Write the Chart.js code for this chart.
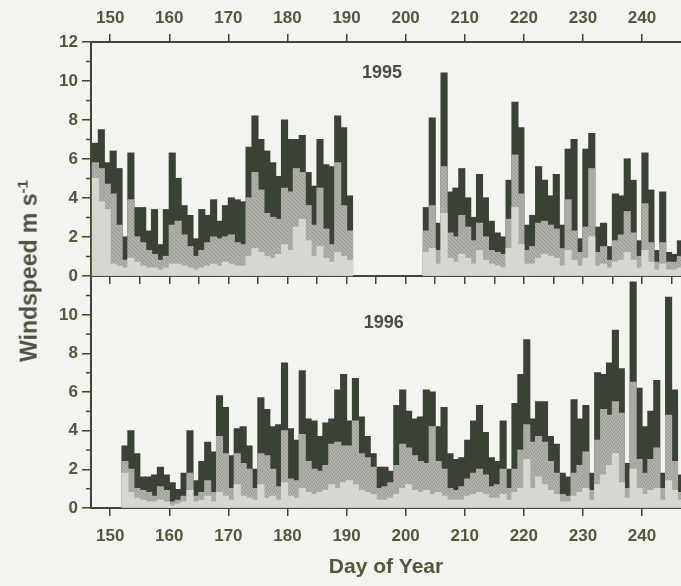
<!DOCTYPE html>
<html>
<head>
<meta charset="utf-8">
<script src="https://cdn.jsdelivr.net/npm/chart.js@4.4.1/dist/chart.umd.min.js"></script>
<style>
  html, body { margin: 0; padding: 0; background: #f3f3ef; }
  #lienzo { position: relative; width: 681px; height: 586px; overflow: hidden; background: #f3f3ef; }
  #grafico96 { position: absolute; left: 0; top: 262px; }
  #grafico95 { position: absolute; left: 0; top: 0; }
  #tituloY {
    position: absolute; left: 28px; top: 271px;
    transform: translate(-50%, -50%) rotate(-90deg);
    white-space: nowrap; font: bold 23px "Liberation Sans", Arial, sans-serif; color: #4b5240;
  }
  #tituloY sup { font-size: 15px; }
</style>
</head>
<body>
<div id="lienzo">
  <canvas id="grafico96" width="681" height="324"></canvas>
  <canvas id="grafico95" width="681" height="292"></canvas>
  <div id="tituloY">Windspeed m s<sup>-1</sup></div>
</div>
<script>
// Datos 1995 (sin datos entre los días 191 y 202)
const dias95 = [
  147, 148, 149, 150, 151, 152, 153, 154, 155, 156,
  157, 158, 159, 160, 161, 162, 163, 164, 165, 166,
  167, 168, 169, 170, 171, 172, 173, 174, 175, 176,
  177, 178, 179, 180, 181, 182, 183, 184, 185, 186,
  187, 188, 189, 190,
  203, 204, 205, 206, 207, 208, 209, 210, 211, 212,
  213, 214, 215, 216, 217, 218, 219, 220, 221, 222,
  223, 224, 225, 226, 227, 228, 229, 230, 231, 232,
  233, 234, 235, 236, 237, 238, 239, 240, 241, 242,
  243, 244, 245, 246
];
const maximo95 = [
  6.8, 7.5, 5.8, 6.4, 5.5, 2.0, 6.3, 3.5, 3.5, 2.3,
  3.4, 1.6, 3.4, 6.3, 5.0, 3.6, 3.1, 1.9, 3.4, 3.1,
  3.9, 2.8, 3.6, 4.0, 3.9, 3.8, 6.6, 8.2, 7.0, 6.4,
  5.8, 5.1, 8.0, 7.0, 7.0, 7.2, 5.3, 4.6, 7.0, 5.7,
  5.6, 8.2, 7.6, 4.1,
  3.5, 8.1, 2.7, 10.4, 4.3, 4.5, 5.5, 4.0, 3.0, 5.2,
  4.0, 2.8, 2.2, 2.0, 4.9, 8.9, 7.6, 2.6, 3.1, 5.6,
  4.9, 4.1, 5.2, 2.6, 6.5, 7.0, 1.9, 6.5, 7.3, 2.5,
  2.7, 1.5, 4.2, 4.1, 6.0, 4.9, 1.8, 6.3, 4.4, 1.3,
  4.3, 1.2, 1.1, 1.8
];
const media95 = [
  5.8, 5.5, 4.7, 4.2, 2.6, 0.8, 3.9, 2.0, 1.7, 1.3,
  1.1, 0.8, 1.0, 2.6, 2.8, 2.1, 1.5, 1.0, 1.3, 1.7,
  2.0, 1.9, 2.0, 2.1, 1.7, 1.6, 4.0, 5.3, 4.4, 3.2,
  3.0, 2.9, 4.5, 4.3, 5.5, 5.3, 3.6, 2.6, 4.5, 2.4,
  1.6, 5.8, 3.6, 2.3,
  2.3, 3.6, 1.3, 5.6, 2.2, 2.0, 3.1, 2.5, 1.8, 2.7,
  2.0, 1.3, 1.2, 1.1, 2.9, 6.2, 4.2, 1.3, 1.5, 2.7,
  2.8, 2.6, 2.4, 1.4, 3.9, 2.3, 1.2, 2.5, 5.5, 1.2,
  1.5, 0.8, 1.8, 2.1, 3.3, 2.2, 1.0, 3.7, 1.7, 0.7,
  1.7, 0.7, 0.7, 1.0
];
const minimo95 = [
  5.0, 3.8, 3.4, 0.6, 0.5, 0.4, 0.9, 0.7, 0.5, 0.4,
  0.4, 0.3, 0.4, 0.6, 0.6, 0.5, 0.4, 0.3, 0.4, 0.5,
  0.6, 0.5, 0.7, 0.6, 0.5, 0.5, 1.0, 1.4, 1.2, 1.0,
  0.9, 1.1, 1.6, 1.3, 2.5, 2.9, 1.8, 1.0, 1.5, 0.9,
  0.7, 1.2, 1.0, 0.8,
  1.2, 1.4, 0.6, 3.2, 0.9, 0.7, 1.1, 0.9, 0.6, 1.3,
  0.8, 0.6, 0.5, 0.4, 1.4, 3.5, 1.6, 0.6, 0.6, 0.9,
  1.1, 1.0, 0.9, 0.5, 1.3, 0.8, 0.5, 0.9, 2.0, 0.5,
  0.6, 0.4, 0.7, 0.8, 1.2, 0.8, 0.4, 1.3, 0.7, 0.3,
  0.6, 0.3, 0.3, 0.4
];

// Datos 1996
const dias96 = [
  152, 153, 154, 155, 156, 157, 158, 159, 160, 161,
  162, 163, 164, 165, 166, 167, 168, 169, 170, 171,
  172, 173, 174, 175, 176, 177, 178, 179, 180, 181,
  182, 183, 184, 185, 186, 187, 188, 189, 190, 191,
  192, 193, 194, 195, 196, 197, 198, 199, 200, 201,
  202, 203, 204, 205, 206, 207, 208, 209, 210, 211,
  212, 213, 214, 215, 216, 217, 218, 219, 220, 221,
  222, 223, 224, 225, 226, 227, 228, 229, 230, 231,
  232, 233, 234, 235, 236, 237, 238, 239, 240, 241,
  242, 243, 244, 245, 246
];
const maximo96 = [
  3.2, 4.0, 2.8, 1.6, 1.6, 1.7, 2.1, 1.7, 1.3, 0.95,
  1.8, 4.0, 1.4, 2.4, 3.4, 2.9, 5.8, 5.2, 2.7, 4.1,
  4.2, 3.2, 2.0, 5.7, 5.1, 4.2, 4.3, 7.5, 4.1, 3.5,
  7.1, 4.6, 4.5, 3.7, 4.4, 4.6, 6.1, 6.9, 4.5, 6.7,
  4.7, 3.7, 2.8, 2.1, 2.1, 1.9, 5.3, 6.1, 5.0, 4.6,
  4.7, 6.1, 6.0, 4.2, 5.2, 2.8, 2.5, 2.6, 3.5, 4.5,
  5.3, 3.9, 2.6, 2.4, 4.5, 2.0, 5.4, 6.9, 8.7, 4.6,
  5.5, 5.5, 3.7, 3.3, 1.8, 1.6, 5.6, 4.6, 5.3, 1.8,
  7.0, 6.9, 7.5, 9.2, 7.2, 2.3, 11.7, 6.2, 4.2, 5.0,
  6.6, 1.8, 10.9, 6.1, 1.7
];
const media96 = [
  2.4, 2.0, 1.0, 0.9, 0.8, 0.6, 1.1, 0.9, 0.3, 0.4,
  0.6, 1.8, 0.6, 0.8, 1.4, 0.8, 3.7, 2.8, 1.0, 2.8,
  2.3, 2.0, 1.0, 2.8, 2.7, 2.0, 1.1, 4.0, 1.5, 1.4,
  3.8, 2.4, 2.0, 1.9, 2.2, 3.3, 3.4, 3.2, 3.2, 4.5,
  2.8, 2.6, 2.1, 1.0, 1.1, 1.3, 2.2, 3.3, 3.1, 2.7,
  2.4, 2.3, 4.2, 2.4, 2.0, 1.0, 0.9, 1.1, 1.5, 1.8,
  2.0, 1.7, 1.1, 1.2, 2.0, 1.0, 2.0, 3.0, 4.3, 3.4,
  3.7, 3.4, 2.4, 1.8, 0.7, 0.6, 1.8, 2.2, 2.9, 0.9,
  3.5, 5.1, 4.8, 5.5, 4.9, 1.0, 6.5, 2.5, 1.8, 2.5,
  3.1, 1.0, 4.8, 2.4, 0.8
];
const minimo96 = [
  1.8, 0.8, 0.5, 0.4, 0.3, 0.3, 0.4, 0.3, 0.1, 0.2,
  0.3, 0.9, 0.3, 0.4, 0.6, 0.3, 0.8, 0.6, 0.4, 1.2,
  0.6, 0.5, 0.4, 1.2, 0.5, 0.6, 0.4, 1.3, 0.6, 0.5,
  1.0, 0.8, 0.7, 0.8, 0.9, 1.2, 1.0, 1.3, 1.4, 1.2,
  0.9, 0.8, 0.7, 0.4, 0.4, 0.5, 0.7, 1.0, 1.2, 0.9,
  0.8, 0.9, 0.7, 0.8, 0.6, 0.4, 0.4, 0.4, 0.6, 0.7,
  0.8, 0.7, 0.5, 0.5, 0.7, 0.4, 0.8, 1.0, 2.5, 1.0,
  1.6, 1.2, 0.9, 0.7, 0.3, 0.3, 0.6, 0.8, 1.0, 0.4,
  1.2, 1.7, 2.2, 2.8, 1.3, 0.5, 2.0, 1.0, 0.7, 0.9,
  1.0, 0.4, 1.4, 0.9, 0.4
];

// Marcas de los ejes
const marcasX = [150, 155, 160, 165, 170, 175, 180, 185, 190, 195, 200, 205, 210, 215, 220, 225, 230, 235, 240, 245];
const marcasY95 = [0, 2, 4, 6, 8, 10, 12];
const marcasY96 = [0, 2, 4, 6, 8, 10];
const marcasMenoresY = [1, 3, 5, 7, 9, 11];

const diaMin = 146.75;
const diaMax = 246.6;

const colorEje = '#3d4a30';
const colorTexto = '#4f5a3c';
const colorOscuro = '#3a4236';
const colorClaro = '#d7d7d2';
const fuente = '"Liberation Sans", Arial, sans-serif';

Chart.defaults.font.family = fuente;
Chart.defaults.font.weight = 'bold';

// punteado suave para la capa intermedia
function trama(base, punto) {
  const c = document.createElement('canvas');
  c.width = 4; c.height = 4;
  const g = c.getContext('2d');
  g.fillStyle = base;
  g.fillRect(0, 0, 4, 4);
  g.fillStyle = punto;
  g.fillRect(0, 0, 1, 1);
  g.fillRect(2, 1, 1, 1);
  g.fillRect(1, 2, 1, 1);
  g.fillRect(3, 3, 1, 1);
  return g.createPattern(c, 'repeat');
}
const colorMedio = trama('#b0b0ab', '#979893');

function conjuntos(dias, minimo, media, maximo) {
  const puntos = arr => dias.map((d, i) => ({ x: d + 0.5, y: arr[i] }));
  const base = { grouped: false, barPercentage: 1, categoryPercentage: 1, borderWidth: 0, inflateAmount: 0.6 };
  return [
    Object.assign({ label: 'Mínimo', data: puntos(minimo), backgroundColor: colorClaro }, base),
    Object.assign({ label: 'Media', data: puntos(media), backgroundColor: colorMedio }, base),
    Object.assign({ label: 'Máximo', data: puntos(maximo), backgroundColor: colorOscuro }, base)
  ];
}

// marcas cortas del eje y
const marcasMenores = {
  id: 'marcasMenores',
  afterDraw(chart) {
    const y = chart.scales.y;
    const ctx = chart.ctx;
    ctx.save();
    ctx.strokeStyle = colorEje;
    ctx.lineWidth = 1.5;
    marcasMenoresY.forEach(v => {
      const py = y.getPixelForValue(v);
      ctx.beginPath();
      ctx.moveTo(y.right - 5, py);
      ctx.lineTo(y.right, py);
      ctx.stroke();
    });
    ctx.restore();
  }
};

// año dentro del panel
const etiquetaPanel = {
  id: 'etiquetaPanel',
  afterDatasetsDraw(chart, args, opts) {
    const ctx = chart.ctx;
    ctx.save();
    ctx.font = 'bold 18px ' + fuente;
    ctx.fillStyle = '#4a4c46';
    ctx.textAlign = 'center';
    ctx.textBaseline = 'middle';
    ctx.fillText(opts.texto, chart.scales.x.getPixelForValue(opts.dia), chart.scales.y.getPixelForValue(opts.valor));
    ctx.restore();
  }
};

function ejeY(marcas, ancho) {
  return {
    type: 'linear', position: 'left', min: 0, max: 12,
    afterBuildTicks: s => { s.ticks = marcas.map(v => ({ value: v })); },
    afterFit: s => { s.width = ancho; },
    border: { display: true, color: colorEje, width: 2 },
    grid: { drawOnChartArea: false, color: colorEje, lineWidth: 1.5, tickLength: 9 },
    ticks: { color: colorTexto, padding: 4, font: { size: 17, weight: 'bold' } }
  };
}

function ejeX(posicion, alto, conEtiquetas, relleno, titulo) {
  return {
    type: 'linear', position: posicion, min: diaMin, max: diaMax, offset: false,
    afterBuildTicks: s => { s.ticks = marcasX.map(v => ({ value: v })); },
    afterFit: s => { s.height = alto; },
    border: { display: true, color: colorEje, width: 2 },
    grid: { offset: false, drawOnChartArea: false, color: colorEje, lineWidth: 1.5, tickLength: 8 },
    ticks: {
      display: conEtiquetas, color: colorTexto, padding: relleno, maxRotation: 0,
      font: { size: 17, weight: 'bold' },
      callback: v => (v % 10 === 0 ? v : '')
    },
    title: titulo
  };
}

document.addEventListener('DOMContentLoaded', function() {
  // Panel 1995
  new Chart(document.getElementById('grafico95').getContext('2d'), {
    type: 'bar',
    data: { datasets: conjuntos(dias95, minimo95, media95, maximo95) },
    options: {
      responsive: false, animation: false, events: [],
      layout: { padding: 0 },
      scales: {
        x: ejeX('bottom', 16, false, 8, { display: false }),
        xt: ejeX('top', 42, true, 5, { display: false }),
        y: ejeY(marcasY95, 91)
      },
      plugins: {
        legend: { display: false },
        tooltip: { enabled: false },
        etiquetaPanel: { texto: '1995', dia: 196, valor: 10.4 }
      }
    },
    plugins: [marcasMenores, etiquetaPanel]
  });

  // Panel 1996
  new Chart(document.getElementById('grafico96').getContext('2d'), {
    type: 'bar',
    data: { datasets: conjuntos(dias96, minimo96, media96, maximo96) },
    options: {
      responsive: false, animation: false, events: [],
      layout: { padding: { top: 13 } },
      scales: {
        x: ejeX('bottom', 78, true, 10, {
          display: true, text: 'Day of Year', color: colorTexto,
          font: { size: 21, weight: 'bold' }, padding: { top: 2, bottom: 6 }
        }),
        y: ejeY(marcasY96, 91)
      },
      plugins: {
        legend: { display: false },
        tooltip: { enabled: false },
        etiquetaPanel: { texto: '1996', dia: 196.3, valor: 9.6 }
      }
    },
    plugins: [marcasMenores, etiquetaPanel]
  });
});
</script>
</body>
</html>
